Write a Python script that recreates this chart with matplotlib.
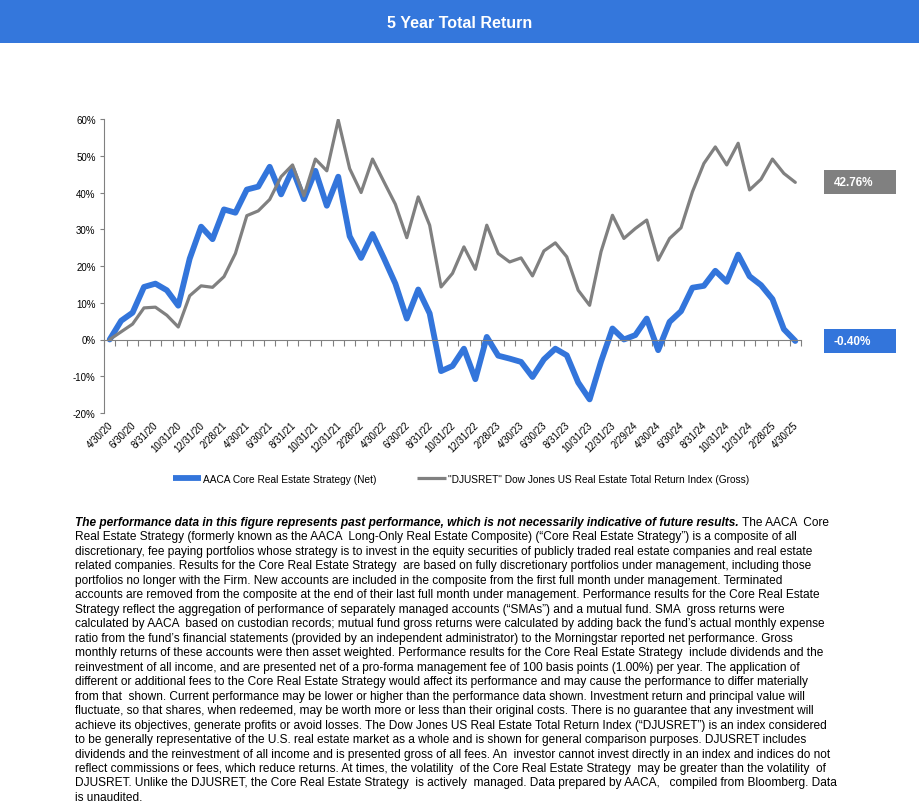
"""5 Year Total Return: AACA Core Real Estate Strategy vs DJUSRET, with disclosure text."""
import numpy as np
import pandas as pd
import matplotlib
matplotlib.use("Agg")
import matplotlib.pyplot as plt
from matplotlib.patches import Rectangle
from matplotlib.lines import Line2D
from matplotlib.transforms import ScaledTranslation

plt.rcParams["font.family"] = ["Liberation Sans", "DejaVu Sans"]

# ---- data (cumulative total return, %) ----
DATES = pd.date_range("2020-04-30", "2025-04-30", freq="ME")
AACA_NET = [0, 5.1, 7.3, 14.3, 15.2, 13.4, 9.2, 22.0, 30.7, 27.3,
            35.4, 34.5, 40.8, 41.6, 47.0, 39.5, 46.3, 38.2, 45.9, 36.4,
            44.3, 28.1, 22.2, 28.7, 22.1, 15.2, 5.7, 13.6, 7.1, -8.6,
            -7.2, -2.5, -10.8, 0.7, -4.4, -5.2, -6.1, -10.2, -5.4, -2.5,
            -4.3, -11.7, -16.3, -6.0, 3.0, 0.0, 1.2, 5.7, -2.9, 4.8,
            7.7, 14.1, 14.6, 18.7, 15.7, 23.1, 17.2, 14.8, 11.0, 2.8,
            -0.40]
DJUSRET = [0, 2.1, 4.2, 8.6, 8.8, 6.6, 3.4, 11.9, 14.6, 14.2,
           17.1, 23.4, 33.7, 35.0, 38.1, 44.3, 47.5, 39.1, 49.1, 45.9,
           59.7, 46.5, 40.0, 49.1, 42.9, 36.8, 27.7, 38.8, 31.1, 14.3,
           18.0, 25.2, 19.1, 31.1, 23.4, 21.1, 22.2, 17.3, 24.1, 26.3,
           22.5, 13.4, 9.3, 23.9, 33.8, 27.5, 30.2, 32.5, 21.6, 27.5,
           30.4, 40.2, 47.9, 52.4, 47.5, 53.4, 40.7, 43.6, 49.1, 45.2,
           42.76]
SERIES_NAMES = ["AACA Core Real Estate Strategy (Net)",
                "\"DJUSRET\" Dow Jones US Real Estate Total Return Index (Gross)"]
Y_TICKS = [-20, -10, 0, 10, 20, 30, 40, 50, 60]

TITLE = "5 Year Total Return"
NOTE_BOLD = ("The performance data in this figure represents past performance, "
             "which is not necessarily indicative of future results.")
NOTE_LINES = [
    " The AACA  Core",
    "Real Estate Strategy (formerly known as the AACA  Long-Only Real Estate Composite) (\u201cCore Real Estate Strategy\u201d) is a composite of all",
    "discretionary, fee paying portfolios whose strategy is to invest in the equity securities of publicly traded real estate companies and real estate",
    "related companies. Results for the Core Real Estate Strategy  are based on fully discretionary portfolios under management, including those",
    "portfolios no longer with the Firm. New accounts are included in the composite from the first full month under management. Terminated",
    "accounts are removed from the composite at the end of their last full month under management. Performance results for the Core Real Estate",
    "Strategy reflect the aggregation of performance of separately managed accounts (\u201cSMAs\u201d) and a mutual fund. SMA  gross returns were",
    "calculated by AACA  based on custodian records; mutual fund gross returns were calculated by adding back the fund\u2019s actual monthly expense",
    "ratio from the fund\u2019s financial statements (provided by an independent administrator) to the Morningstar reported net performance. Gross",
    "monthly returns of these accounts were then asset weighted. Performance results for the Core Real Estate Strategy  include dividends and the",
    "reinvestment of all income, and are presented net of a pro-forma management fee of 100 basis points (1.00%) per year. The application of",
    "different or additional fees to the Core Real Estate Strategy would affect its performance and may cause the performance to differ materially",
    "from that  shown. Current performance may be lower or higher than the performance data shown. Investment return and principal value will",
    "fluctuate, so that shares, when redeemed, may be worth more or less than their original costs. There is no guarantee that any investment will",
    "achieve its objectives, generate profits or avoid losses. The Dow Jones US Real Estate Total Return Index (\u201cDJUSRET\u201d) is an index considered",
    "to be generally representative of the U.S. real estate market as a whole and is shown for general comparison purposes. DJUSRET includes",
    "dividends and the reinvestment of all income and is presented gross of all fees. An  investor cannot invest directly in an index and indices do not",
    "reflect commissions or fees, which reduce returns. At times, the volatility  of the Core Real Estate Strategy  may be greater than the volatility  of",
    "DJUSRET. Unlike the DJUSRET, the Core Real Estate Strategy  is actively  managed. Data prepared by AACA,   compiled from Bloomberg. Data",
    "is unaudited.",
]

BAR_BLUE = "#3477DC"
BLUE = "#3375DB"
GRAY = "#808080"

W, H = 920, 812
fig = plt.figure(figsize=(W / 100, H / 100), dpi=100)

# title band
fig.patches.append(Rectangle((0, 1 - 44 / H), 1, 44 / H, transform=fig.transFigure,
                             facecolor=BAR_BLUE, edgecolor="none"))
fig.text(0.5, 1 - 23 / H, TITLE, ha="center", va="center", color="white",
         fontsize=11.5, fontweight="bold")

# ---- chart ----
ax = fig.add_axes([104 / W, 1 - 414 / H, 697 / W, 294 / H])
x = np.arange(len(DATES))
ax.plot(x, AACA_NET, color=BLUE, lw=4.2, solid_capstyle="round")
ax.plot(x, DJUSRET, color=GRAY, lw=2.3, solid_capstyle="round")

ax.set_xlim(-0.5, len(DATES) - 0.5)
ax.set_ylim(Y_TICKS[0], Y_TICKS[-1])
ax.set_yticks(Y_TICKS)
ax.set_yticklabels([f"{v}%" for v in Y_TICKS])
ax.tick_params(axis="y", length=3, color=GRAY, labelsize=7, pad=3)

for s in ["top", "right"]:
    ax.spines[s].set_visible(False)
ax.spines["left"].set_color(GRAY)
ax.spines["bottom"].set_color(GRAY)
ax.spines["bottom"].set_position(("data", 0))

# category boundary ticks on the zero line, labels at the bottom
ax.set_xticks(np.arange(-0.5, len(DATES), 1))
ax.set_xticklabels([])
ax.tick_params(axis="x", length=4, color=GRAY)

sec = ax.secondary_xaxis("bottom")
sec.set_xticks(x[::2])
sec.set_xticklabels([f"{d.month}/{d.day}/{d:%y}" for d in DATES[::2]],
                    rotation=45, ha="right", va="top", fontsize=7)
sec.tick_params(length=0, pad=1)
sec.spines["bottom"].set_visible(False)
shift = ScaledTranslation(5 / 100, -5 / 100, fig.dpi_scale_trans)
for lbl in sec.get_xticklabels():
    lbl.set_transform(lbl.get_transform() + shift)

# end-value labels
for vals, col in [(DJUSRET, GRAY), (AACA_NET, BLUE)]:
    ypix = ax.transData.transform((0, vals[-1]))[1]
    fig.patches.append(Rectangle((824 / W, (ypix - 12) / H), 72 / W, 24 / H,
                                 transform=fig.transFigure, facecolor=col, edgecolor="none"))
    fig.text(834 / W, ypix / H, f"{vals[-1]:.2f}%", ha="left", va="center",
             color="white", fontsize=8.5, fontweight="bold")

# legend
handles = [Line2D([], [], color=BLUE, lw=4.2, solid_capstyle="butt"),
           Line2D([], [], color=GRAY, lw=2.3, solid_capstyle="butt")]
fig.legend(handles, SERIES_NAMES, loc="center", bbox_to_anchor=(461 / W, 1 - 480 / H),
           ncol=2, frameon=False, fontsize=7.3, handlelength=2.8,
           handletextpad=0.25, columnspacing=4.0)

# ---- disclosure text ----
x0 = 75 / W
y0 = 523
dy = 14.47
fs = 8.6
renderer = fig.canvas.get_renderer()
t = fig.text(x0, 1 - y0 / H, NOTE_BOLD, ha="left", va="center", fontsize=fs,
             fontweight="bold", fontstyle="italic")
bb = t.get_window_extent(renderer)
fig.text(bb.x1 / W, 1 - y0 / H, NOTE_LINES[0], ha="left", va="center", fontsize=fs)
for k, line in enumerate(NOTE_LINES[1:], start=1):
    fig.text(x0, 1 - (y0 + k * dy) / H, line, ha="left", va="center", fontsize=fs)

fig.savefig("out.png", dpi=100)
